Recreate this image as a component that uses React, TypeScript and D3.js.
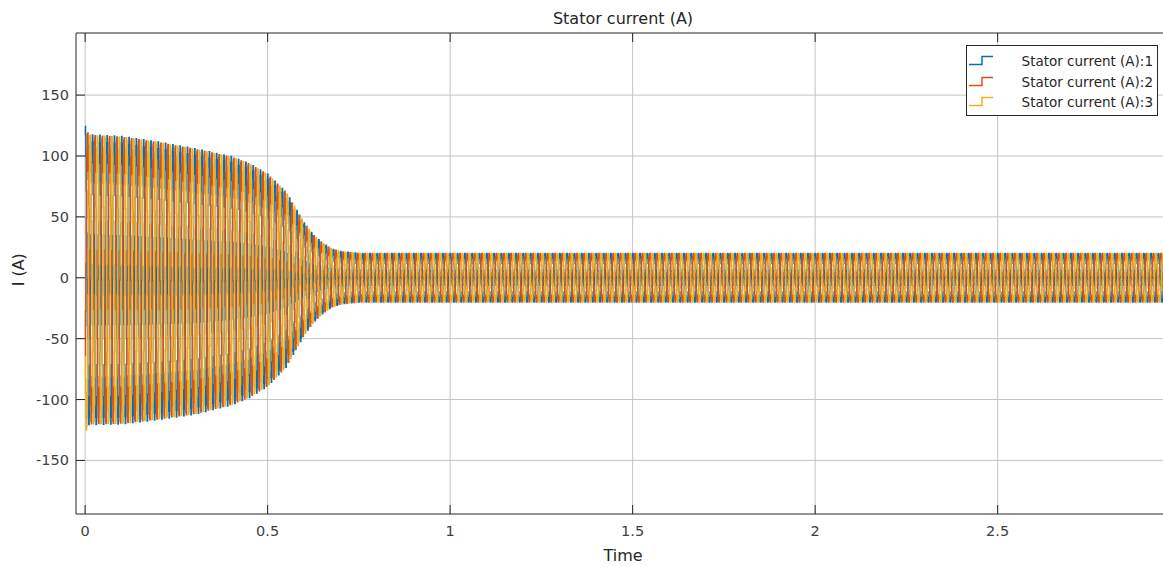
import React from 'react';
import * as d3 from 'd3';

// Envelope of the stator current peak amplitude (time s, amplitude A)
const envTime = [0, 0.01, 0.1, 0.2, 0.3, 0.4, 0.45, 0.5, 0.55, 0.575, 0.6, 0.625, 0.65, 0.675, 0.7, 0.75, 3.0];
const envAmp = [126, 119, 118, 114, 109, 102, 96, 87, 72, 59, 46, 36, 29, 24, 21.5, 20, 20];
// small negative offset during start-up (read from asymmetry top/bottom)
const offTime = [0, 0.3, 0.5, 0.7, 3.0];
const offVal = [-1.5, -3, -2, 0, 0];

const supplyFreq = 50; // Hz
const sampleTime = 0.001; // s
const stopTime = 3.0;
const phaseShifts = [0, -2 * Math.PI / 3, 2 * Math.PI / 3];

const seriesNames = ['Stator current (A):1', 'Stator current (A):2', 'Stator current (A):3'];
const seriesColors = ['#0072BD', '#D95319', '#EDB120'];

const xTicks = [0, 0.5, 1, 1.5, 2, 2.5];
const xTickLabels = ['0', '0.5', '1', '1.5', '2', '2.5'];
const yTicks = [-150, -100, -50, 0, 50, 100, 150];
const yTickLabels = ['-150', '-100', '-50', '0', '50', '100', '150'];

const W = 1163;
const H = 567;
const left = 76, top = 33, bottom = 514, right = 1163;

export default function App() {
  const x = d3.scaleLinear().domain([-0.025, 2.953]).range([left, right]);
  const y = d3.scaleLinear().domain([-194, 201]).range([bottom, top]);
  const env = d3.scaleLinear().domain(envTime).range(envAmp).clamp(true);
  const off = d3.scaleLinear().domain(offTime).range(offVal).clamp(true);

  const n = Math.round(stopTime / sampleTime);
  const times = d3.range(n + 1).map((i) => i * sampleTime);
  const series = phaseShifts.map((ph) =>
    times.map((t) => [t, env(t) * Math.cos(2 * Math.PI * supplyFreq * t + ph) + off(t)] as [number, number])
  );
  const line = d3.line<[number, number]>()
    .x((d) => x(d[0]))
    .y((d) => y(d[1]))
    .curve(d3.curveStepAfter);

  const font = '"DejaVu Sans", sans-serif';
  const tickLen = 9;
  const axisColor = '#262626';
  const gridColor = '#c4c4c4';

  const legX = 966.5, legY = 45.5, legW = 191, legH = 70;
  const rowY = [60.5, 81.5, 101.5];

  return (
    <svg width={W} height={H} style={{ position: 'absolute', left: 0, top: 0, background: '#fff' }}>
      <defs>
        <clipPath id="plotClip">
          <rect x={left} y={top} width={right - left + 5} height={bottom - top} />
        </clipPath>
      </defs>
      <rect x={0} y={0} width={W} height={H} fill="#fff" />
      {/* grid */}
      {xTicks.map((t) => (
        <line key={'gx' + t} x1={x(t)} x2={x(t)} y1={top} y2={bottom} stroke={gridColor} strokeWidth={1} />
      ))}
      {yTicks.map((t) => (
        <line key={'gy' + t} x1={left} x2={right} y1={y(t)} y2={y(t)} stroke={gridColor} strokeWidth={1} />
      ))}
      {/* data */}
      <g clipPath="url(#plotClip)">
        {series.map((s, i) => (
          <path key={i} d={line(s) || ''} fill="none" stroke={seriesColors[i]} strokeWidth={1.5} />
        ))}
      </g>
      {/* axes box */}
      <line x1={left} x2={right} y1={top} y2={top} stroke={axisColor} strokeWidth={1} />
      <line x1={left} x2={right} y1={bottom} y2={bottom} stroke={axisColor} strokeWidth={1} />
      <line x1={left} x2={left} y1={top} y2={bottom} stroke={axisColor} strokeWidth={1} />
      {/* ticks */}
      {xTicks.map((t, i) => (
        <g key={'tx' + t}>
          <line x1={x(t)} x2={x(t)} y1={bottom} y2={bottom - tickLen} stroke={axisColor} />
          <line x1={x(t)} x2={x(t)} y1={top} y2={top + tickLen} stroke={axisColor} />
          <text x={x(t)} y={531} textAnchor="middle" dominantBaseline="central" fontFamily={font} fontSize={14.5} fill="#404040">
            {xTickLabels[i]}
          </text>
        </g>
      ))}
      {yTicks.map((t, i) => (
        <g key={'ty' + t}>
          <line x1={left} x2={left + tickLen} y1={y(t)} y2={y(t)} stroke={axisColor} />
          <text x={69} y={y(t)} textAnchor="end" dominantBaseline="central" fontFamily={font} fontSize={14.5} fill="#404040">
            {yTickLabels[i]}
          </text>
        </g>
      ))}
      {/* labels */}
      <text x={623} y={18} textAnchor="middle" dominantBaseline="central" fontFamily={font} fontSize={16} fill="#262626">
        Stator current (A)
      </text>
      <text x={623} y={555} textAnchor="middle" dominantBaseline="central" fontFamily={font} fontSize={16} fill="#262626">
        Time
      </text>
      <text transform={`translate(18,${y(0) - 8}) rotate(-90)`} textAnchor="middle" dominantBaseline="central" fontFamily={font} fontSize={16} fill="#262626">
        I (A)
      </text>
      {/* legend */}
      <rect x={legX} y={legY} width={legW} height={legH} fill="#fff" stroke={axisColor} strokeWidth={1} />
      {seriesNames.map((name, i) => (
        <g key={name}>
          <path
            d={`M969,${rowY[i] + 4}H982V${rowY[i] - 4}H993`}
            fill="none"
            stroke={seriesColors[i]}
            strokeWidth={1.5}
          />
          <text x={1153} y={rowY[i]} textAnchor="end" dominantBaseline="central" fontFamily={font} fontSize={13.5} fill="#262626">
            {name}
          </text>
        </g>
      ))}
    </svg>
  );
}
